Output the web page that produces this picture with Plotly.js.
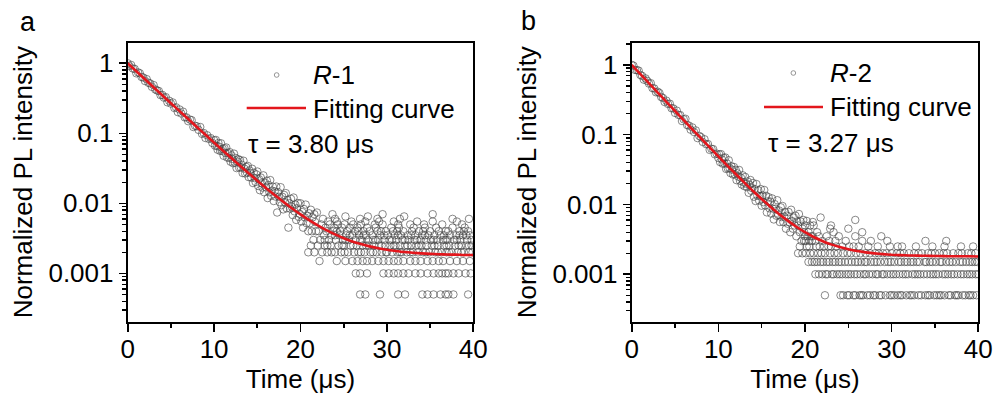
<!DOCTYPE html>
<html>
<head>
<meta charset="utf-8">
<script src="https://cdn.plot.ly/plotly-3.0.1.min.js"></script>
<style>
html,body{margin:0;padding:0;background:#fff;}
#chart{width:997px;height:394px;}
</style>
</head>
<body>
<div id="chart"></div>
<script>
// ---------- DATA ----------
// early decay time bins (µs), shared by both panels
const tEarly = [0,0.2,0.4,0.6,0.8,1.0,1.2,1.4,1.6,1.8,2.0,2.2,2.4,2.6,2.8,3.0,3.2,3.4,3.6,3.8,4.0,4.2,4.4,4.6,4.8,5.0,5.2,5.4,5.6,5.8,6.0,6.2,6.4,6.6,6.8,7.0,7.2,7.4,7.6,7.8,8.0,8.2,8.4,8.6,8.8,9.0,9.2,9.4,9.6,9.8];
const tLateA = [10.0,10.1,10.2,10.3,10.4,10.5,10.6,10.7,10.8,10.9,11.0,11.1,11.2,11.3,11.4,11.5,11.6,11.7,11.8,11.9,12.0,12.1,12.2,12.3,12.4,12.5,12.6,12.7,12.8,12.9,13.0,13.1,13.2,13.3,13.4,13.5,13.6,13.7,13.8,13.9,14.0,14.1,14.2,14.3,14.4,14.5,14.6,14.7,14.8,14.9,15.0,15.1,15.2,15.3,15.4,15.5,15.6,15.7,15.8,15.9,16.0,16.1,16.2,16.3,16.4,16.5,16.6,16.7,16.8,16.9,17.0,17.1,17.2,17.3,17.4,17.5,17.6,17.7,17.8,17.9,18.0,18.1,18.2,18.3,18.4,18.5,18.6,18.7,18.8,18.9,19.0,19.1,19.2,19.3,19.4,19.5,19.6,19.7,19.8,19.9,20.0,20.1,20.2,20.3,20.4,20.5,20.6,20.7,20.8,20.9,21.0,21.1,21.2,21.3,21.4,21.5,21.6,21.7,21.8,21.9];
const tLateB = [10.0,10.1,10.2,10.3,10.4,10.5,10.6,10.7,10.8,10.9,11.0,11.1,11.2,11.3,11.4,11.5,11.6,11.7,11.8,11.9,12.0,12.1,12.2,12.3,12.4,12.5,12.6,12.7,12.8,12.9,13.0,13.1,13.2,13.3,13.4,13.5,13.6,13.7,13.8,13.9,14.0,14.1,14.2,14.3,14.4,14.5,14.6,14.7,14.8,14.9,15.0,15.1,15.2,15.3,15.4,15.5,15.6,15.7,15.8,15.9,16.0,16.1,16.2,16.3,16.4,16.5,16.6,16.7,16.8,16.9,17.0,17.1,17.2,17.3,17.4,17.5,17.6,17.7,17.8,17.9,18.0,18.1,18.2,18.3,18.4,18.5,18.6,18.7,18.8,18.9,19.0,19.1,19.2,19.3,19.4,19.5,19.6,19.7,19.8,19.9,20.0,20.1,20.2,20.3,20.4,20.5,20.6,20.7,20.8,20.9];

// panel a (R-1) normalized PL intensity
const yEarlyA = [1.0,0.910,0.946,0.842,0.833,0.719,0.742,0.720,0.638,0.626,0.558,0.594,0.527,0.516,0.461,0.488,0.423,0.409,0.402,0.351,0.354,0.323,0.329,0.277,0.292,0.266,0.276,0.230,0.235,0.201,0.219,0.192,0.204,0.169,0.169,0.149,0.157,0.154,0.123,0.128,0.126,0.112,0.123,0.0983,0.101,0.0858,0.0937,0.0831,0.0855,0.0728];
const yLateA = [0.0795,0.0667,0.0804,0.0662,0.0584,0.0726,0.0644,0.0560,0.0720,0.0562,
0.0599,0.0478,0.0612,0.0523,0.0628,0.0452,0.0523,0.0448,0.0539,0.0394,
0.0486,0.0431,0.0374,0.0513,0.0380,0.0445,0.0319,0.0393,0.0426,0.0324,
0.0416,0.0326,0.0356,0.0271,0.0406,0.0313,0.0267,0.0332,0.0276,0.0342,
0.0237,0.0295,0.0269,0.0233,0.0312,0.0195,0.0273,0.0229,0.0202,0.0259,
0.0285,0.0177,0.0221,0.0154,0.0234,0.0194,0.0168,0.0251,0.0144,0.0196,
0.0169,0.0211,0.0119,0.0183,0.0144,0.0215,0.0128,0.0152,0.0173,0.0108,
0.0148,0.0125,0.0174,0.0074,0.0145,0.0124,0.0104,0.0170,0.0094,0.0124,
0.0082,0.0132,0.0103,0.0140,0.0085,0.0112,0.0045,0.0100,0.0084,0.0116,
0.0089,0.0068,0.0121,0.0077,0.0096,0.0058,0.0085,0.0101,0.0064,0.0071,
0.0100,0.0055,0.0075,0.0045,0.0083,0.0063,0.0096,0.0052,0.0066,0.0040,
0.0072,0.0052,0.0081,0.0040,0.0063,0.0030,0.0070,0.0054,0.0040,0.0074];
// panel a background: time positions of points on each count level
const levelsA = [0.0005,0.001,0.0015,0.002,0.0025,0.003,0.0035,0.004,0.0045,0.005,0.0055,0.006,0.0065,0.007];
const tailA_0005 = [26.9,27.5,29.2,31.3,32.1,34.1,34.7,35.4,36.2,36.8,37.1,37.7,39.4];
const tailA_0010 = [26.4,26.9,27.7,29.6,30.2,30.8,31.3,31.9,32.5,33.3,33.9,34.7,35.4,36.0,36.4,36.8,37.1,37.7,38.3,39.1,39.7];
const tailA_0015 = [22.2,24.2,25.2,26.0,26.6,27.2,27.7,28.3,29.0,29.6,30.2,30.8,31.3,31.9,32.7,33.3,33.9,34.7,35.3,36.0,36.5,37.3,38.1,38.8,39.6];
const tailA_0020 = [20.9,21.6,22.5,23.1,23.6,24.0,24.7,25.1,25.5,26.2,26.7,27.0,27.4,28.1,28.4,28.8,29.4,29.9,30.0,30.6,31.2,31.5,31.7,32.3,32.7,33.0,33.6,34.2,34.5,34.9,35.6,35.9,36.3,36.9,37.2,37.5,38.2,38.6,38.9,39.5,39.9];
const tailA_0025 = [21.2,22.0,22.8,23.1,23.5,24.4,24.8,25.0,25.8,26.1,26.5,27.2,27.6,27.9,28.5,29.1,29.4,29.8,30.4,30.8,31.0,31.5,32.1,32.4,32.8,33.4,33.7,34.0,34.6,35.2,35.5,35.9,36.6,36.9,37.2,37.9,38.3,38.6,39.2,39.5,39.8];
const tailA_0030 = [22.3,22.8,23.3,24.1,24.9,25.2,25.6,26.4,26.9,27.1,27.8,28.4,28.7,29.0,29.7,30.3,30.6,31.1,31.8,32.1,32.5,33.2,33.5,33.9,34.5,35.1,35.4,35.8,36.5,36.8,37.0,37.8,38.1,38.5,39.3,39.8];
const tailA_0035 = [22.7,23.6,24.0,24.5,25.3,25.7,26.0,26.8,27.3,27.6,28.3,29.2,29.7,30.1,30.9,31.3,31.6,32.4,32.8,33.3,34.1,34.4,34.8,35.5,36.2,36.6,37.3,38.0,38.4,38.8,39.2,39.6];
const tailA_0040 = [22.1,23.0,23.8,24.2,24.6,25.4,26.3,26.7,27.3,28.0,28.9,29.3,29.9,30.7,31.2,31.9,32.9,33.7,34.2,35.0,36.0,36.8,37.1,38.4,38.9,39.4];
const tailA_0045 = [22.9,23.9,24.8,25.7,26.6,27.7,28.7,30.5,31.4,33.1,34.4,35.7,37.6,39.0];
const tailA_0050 = [22.4,23.4,24.3,25.1,26.1,27.0,28.6,29.5,31.3,32.7,34.3,36.4,38.7];
const tailA_0055 = [23.2,24.2,25.9,27.5,29.1,30.8,33.5,35.3,38.1];
const tailA_0060 = [22.6,24.0,26.9,28.9,31.5,37.6,39.5];
const tailA_0065 = [25.2,27.8,32.0];
const tailA_0070 = [23.7,29.5,35.3];

// panel b (R-2) normalized PL intensity
const yEarlyB = [1.0,0.973,0.846,0.842,0.828,0.718,0.695,0.614,0.640,0.589,0.539,0.547,0.464,0.460,0.405,0.413,0.395,0.347,0.336,0.294,0.307,0.275,0.278,0.239,0.238,0.205,0.221,0.192,0.191,0.157,0.166,0.169,0.137,0.135,0.118,0.127,0.109,0.115,0.0894,0.0959,0.0920,0.0787,0.0860,0.0729,0.0734,0.0606,0.0627,0.0622,0.0523,0.0535];
const yLateB = [0.0464,0.0521,0.0405,0.0527,0.0443,0.0384,0.0466,0.0386,0.0471,0.0323,
0.0386,0.0329,0.0430,0.0331,0.0282,0.0353,0.0315,0.0268,0.0344,0.0270,
0.0314,0.0223,0.0279,0.0251,0.0312,0.0218,0.0242,0.0193,0.0262,0.0208,
0.0183,0.0248,0.0199,0.0177,0.0213,0.0147,0.0191,0.0224,0.0157,0.0171,
0.0203,0.0129,0.0166,0.0112,0.0196,0.0134,0.0160,0.0114,0.0132,0.0166,
0.0096,0.0135,0.0108,0.0161,0.0097,0.0133,0.0077,0.0111,0.0127,0.0088,
0.0110,0.0074,0.0122,0.0087,0.0061,0.0101,0.0087,0.0069,0.0115,0.0071,
0.0082,0.0056,0.0091,0.0066,0.0095,0.0056,0.0067,0.0078,0.0045,0.0069,
0.0053,0.0078,0.0056,0.0040,0.0084,0.0058,0.0045,0.0065,0.0050,0.0069,
0.0035,0.0057,0.0050,0.0073,0.0040,0.0057,0.0030,0.0045,0.0060,0.0040,
0.0050,0.0030,0.0058,0.0035,0.0040,0.0025,0.0050,0.0035,0.0030,0.0056];
const levelsB = [0.0005,0.001,0.0015,0.002,0.0025,0.003,0.0035,0.004,0.0045,0.005,0.006,0.0065];
const tailB_0005 = [22.3,24.1,24.4,24.9,25.1,25.6,25.8,26.3,26.5,26.7,27.2,27.5,27.9,28.1,28.6,28.8,29.3,29.8,30.0,30.3,30.7,31.0,31.2,31.7,32.1,32.3,32.6,33.1,33.4,33.9,34.2,34.4,34.9,35.2,35.5,35.7,36.1,36.6,36.8,37.3,37.5,37.7,38.2,38.5,38.9,39.1,39.4,39.8];
const tailB_0010 = [21.2,21.6,22.0,22.4,22.6,23.1,23.3,23.7,24.0,24.3,24.7,25.0,25.3,25.7,26.0,26.4,26.8,27.0,27.4,27.8,28.2,28.4,28.9,29.1,29.5,29.9,30.2,30.5,30.9,31.3,31.6,31.9,32.4,32.7,33.0,33.3,33.7,34.1,34.5,34.8,35.1,35.4,35.9,36.2,36.5,36.9,37.2,37.6,38.0,38.3,38.7,39.0,39.3,39.7,40.0];
const tailB_0015 = [20.4,20.8,21.1,21.4,21.8,22.1,22.5,22.8,23.2,23.5,23.9,24.2,24.6,25.0,25.4,25.8,26.1,26.5,26.9,27.1,27.6,28.0,28.3,28.7,29.2,29.6,29.9,30.3,30.8,31.1,31.5,31.8,32.2,32.5,32.9,33.2,33.8,34.0,34.4,34.7,35.1,35.6,35.8,36.3,36.7,37.0,37.4,37.9,38.2,38.6,39.0,39.3,39.6,39.9];
const tailB_0020 = [19.2,19.7,20.1,20.6,21.0,21.5,21.9,22.3,22.9,23.4,23.8,24.4,24.9,25.3,25.9,26.4,27.0,27.5,28.1,28.5,29.0,29.4,30.0,30.6,31.0,31.4,32.0,32.6,33.1,33.5,34.2,34.6,35.0,35.5,36.0,36.4,37.1,37.7,38.1,38.8,39.2,39.7];
const tailB_0025 = [19.4,20.2,21.3,21.7,22.2,22.7,23.0,23.6,24.3,25.1,25.6,26.2,27.3,28.4,29.8,30.7,31.2,32.8,34.7,36.1,38.0,39.4];
const tailB_0030 = [19.9,20.5,21.2,22.0,22.8,23.5,24.7,26.6,27.6,29.5,33.9,36.3];
const tailB_0035 = [20.0,20.9,21.6,22.5,23.9,25.8,28.8];
const tailB_0040 = [21.4,23.3,26.6];
const tailB_0045 = [22.9,25.0];
const tailB_0050 = [21.0,23.0];
const tailB_0060 = [25.8];
const tailB_0065 = [21.8];

// fitted curves
const fitT = [0,1,2,3,4,5,6,7,8,9,10,11,12,13,14,15,16,17,18,19,20,21,22,23,24,25,26,27,28,29,30,31,32,33,34,35,36,37,38,39,40];
const fitA = [1.0,0.7689,0.5914,0.4550,0.3501,0.2695,0.2076,0.1600,0.1234,0.0953,0.0736,0.0570,0.0443,0.0344,0.0269,0.0211,0.0166,0.0132,0.01055,0.00852,0.00696,0.00577,0.00485,0.00414,0.00360,0.00318,0.00286,0.00262,0.00243,0.00228,0.00217,0.00209,0.00202,0.00197,0.00193,0.00190,0.00188,0.00186,0.00185,0.00183,0.00183];
const fitB = [1.0,0.7383,0.5443,0.4013,0.2961,0.2185,0.1614,0.1194,0.0884,0.0656,0.0488,0.0364,0.0273,0.0206,0.0156,0.0120,0.00930,0.00732,0.00587,0.00480,0.00401,0.00342,0.00300,0.00268,0.00245,0.00228,0.00215,0.00206,0.00199,0.00194,0.00190,0.00188,0.00186,0.00185,0.00184,0.00183,0.00182,0.00181,0.00181,0.00181,0.00180];

const yTickVals = [1,0.1,0.01,0.001];
const yTickText = ['1','0.1','0.01','0.001'];
const xTickVals = [0,10,20,30,40];

// ---------- BUILD ----------
const W = 997, H = 394;
const FONT = 'Arial, "Liberation Sans", sans-serif';
const FS = 26;
const fx = p => p / W;
const fy = p => 1 - p / H;

function gather(tEarly, yEarly, tLate, yLate, levels, tails) {
  let xs = tEarly.concat(tLate), ys = yEarly.concat(yLate);
  levels.forEach((lv, i) => {
    tails[i].forEach(t => { xs.push(t); ys.push(lv); });
  });
  return {xs, ys};
}
const A = gather(tEarly, yEarlyA, tLateA, yLateA, levelsA,
  [tailA_0005,tailA_0010,tailA_0015,tailA_0020,tailA_0025,tailA_0030,tailA_0035,tailA_0040,tailA_0045,tailA_0050,tailA_0055,tailA_0060,tailA_0065,tailA_0070]);
const B = gather(tEarly, yEarlyB, tLateB, yLateB, levelsB,
  [tailB_0005,tailB_0010,tailB_0015,tailB_0020,tailB_0025,tailB_0030,tailB_0035,tailB_0040,tailB_0045,tailB_0050,tailB_0060,tailB_0065]);

const markerStyle = {symbol:'circle-open', size:7.5, color:'rgba(65,65,65,0.62)', line:{width:1}};
const lineStyle = {color:'#e3161c', width:2.6, shape:'spline', smoothing:0.6};

const traces = [
  {x:A.xs, y:A.ys, xaxis:'x', yaxis:'y', mode:'markers', type:'scatter', name:'R-1', marker:markerStyle, showlegend:false, hoverinfo:'skip'},
  {x:fitT, y:fitA, xaxis:'x', yaxis:'y', mode:'lines', type:'scatter', name:'Fitting curve', line:lineStyle, showlegend:false, hoverinfo:'skip'},
  {x:B.xs, y:B.ys, xaxis:'x2', yaxis:'y2', mode:'markers', type:'scatter', name:'R-2', marker:markerStyle, showlegend:false, hoverinfo:'skip'},
  {x:fitT, y:fitB, xaxis:'x2', yaxis:'y2', mode:'lines', type:'scatter', name:'Fitting curve', line:lineStyle, showlegend:false, hoverinfo:'skip'}
];

const minorLog = [];
[-4,-3,-2,-1,0].forEach(e => { for (let d = 2; d <= 9; d++) minorLog.push(d * Math.pow(10, e)); });

function xAxis(domain, anchor) {
  return {
    domain, anchor, range:[0,40], tickmode:'array', tickvals:xTickVals,
    ticks:'outside', ticklen:8, tickwidth:1.6, tickcolor:'#000', ticklabelstandoff:-5,
    minor:{tickmode:'linear', tick0:5, dtick:10, ticks:'outside', ticklen:4, tickwidth:1.6, tickcolor:'#000', showgrid:false},
    showline:true, mirror:true, linewidth:2, linecolor:'#000',
    showgrid:false, zeroline:false, automargin:false,
    tickfont:{family:FONT, size:FS, color:'#000'},
    title:{text:'Time (μs)', font:{family:FONT, size:FS, color:'#000'}, standoff:0}
  };
}
function yAxis(domain, anchor, range) {
  return {
    domain, anchor, type:'log', range,
    tickmode:'array', tickvals:yTickVals, ticktext:yTickText,
    ticks:'outside', ticklen:7, tickwidth:1.6, tickcolor:'#000',
    minor:{tickmode:'array', tickvals:minorLog, ticks:'outside', ticklen:4, tickwidth:1.4, tickcolor:'#000', showgrid:false},
    showline:true, mirror:true, linewidth:2, linecolor:'#000',
    showgrid:false, zeroline:false, automargin:false,
    tickfont:{family:FONT, size:FS, color:'#000'},
    title:{text:'Normalized PL intensity', font:{family:FONT, size:FS, color:'#000'}, standoff:8}
  };
}

const yDom = [fy(321.7), fy(42.7)];
function ann(text, px, py, size, xanchor) {
  return {text, x:fx(px), y:fy(py), xref:'paper', yref:'paper', xanchor:xanchor||'left', yanchor:'middle',
          showarrow:false, font:{family:FONT, size:size||FS, color:'#000'}};
}

const layout = {
  width:W, height:H, margin:{l:0, r:0, t:0, b:0},
  paper_bgcolor:'#fff', plot_bgcolor:'#fff', showlegend:false,
  xaxis: xAxis([fx(127.7), fx(473.3)], 'y'),
  yaxis: yAxis(yDom, 'x', [-3.69, 0.294]),
  xaxis2: xAxis([fx(631.7), fx(978.3)], 'y2'),
  yaxis2: yAxis(yDom, 'x2', [-3.68, 0.318]),
  annotations: [
    ann('a', 18, 22, 27), ann('b', 519, 21, 27),
    ann('<i>R</i>-1', 311, 75), ann('Fitting curve', 311, 109), ann('τ = 3.80 μs', 246, 144),
    ann('<i>R</i>-2', 828, 73), ann('Fitting curve', 828, 107), ann('τ = 3.27 μs', 766, 143)
  ],
  shapes: [
    {type:'circle', xref:'paper', yref:'paper', x0:fx(274.3), x1:fx(279), y0:fy(77.3), y1:fy(72.7), line:{color:'#8a8a8a', width:0.9}},
    {type:'line', xref:'paper', yref:'paper', x0:fx(246.7), x1:fx(306), y0:fy(108), y1:fy(108), line:{color:'#e3161c', width:2.6}},
    {type:'circle', xref:'paper', yref:'paper', x0:fx(791), x1:fx(795.7), y0:fy(75.3), y1:fy(70.7), line:{color:'#8a8a8a', width:0.9}},
    {type:'line', xref:'paper', yref:'paper', x0:fx(764), x1:fx(823), y0:fy(107), y1:fy(107), line:{color:'#e3161c', width:2.6}}
  ]
};

Plotly.newPlot('chart', traces, layout, {staticPlot:true, displayModeBar:false});
</script>
</body>
</html>
